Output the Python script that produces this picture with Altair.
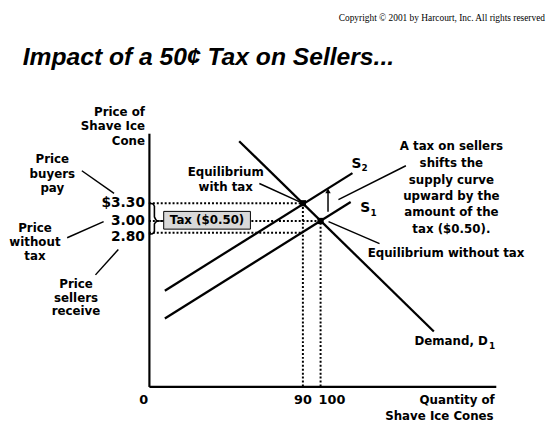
import altair as alt
import pandas as pd

# ---------------- data (economic units: quantity q, price p) ----------------
Q_DOMAIN = [3, 199]
P_DOMAIN = [0.2, 4.485]

demand_q = [54, 164]
demand_p = [4.35, 1.13]
s1_q = [12, 117]
s1_p = [1.35, 3.32]
s2_q = [12, 118]
s2_p = [1.82, 3.81]

eq_q = [100, 90]          # without tax, with tax
eq_p = [3.00, 3.30]

price_ticks = [3.30, 3.00, 2.80]
price_labels = ["$3.30", "3.00", "2.80"]
price_guide_q = [90, 100, 90]

qty_ticks = [0, 90, 100]
qty_labels = ["0", "90", "100"]
qty_guide_p = [None, 3.30, 3.00]
qty_label_p = -0.034

tax_label = "Tax ($0.50)"

# brace between 3.30 and 2.80
brace_q = [3, 5, 6.1, 6.1, 8, 6.1, 6.1, 5, 3]
brace_p = [3.30, 3.29, 3.25, 3.07, 3.00, 2.95, 2.82, 2.785, 2.775]

# tax box
box_q = [11.35, 60.35]
box_p = [2.862, 3.162]

# shift arrow
arrow_q = 104.2
arrow_p = [3.155, 3.50]

# leader lines (q, p) -> (q2, p2)
lead_q = [-34.9, -43.2, -27.2, 65.4, 148.2, 133.3]
lead_p = [3.85, 2.717, 2.088, 3.634, 3.934, 2.617]
lead_q2 = [-16.7, -22.6, -14.3, 88.2, 110.1, 104.5]
lead_p2 = [3.467, 2.988, 2.517, 3.322, 3.362, 2.988]

# annotation text lines
center_text = ["Price", "buyers", "pay",
               "Price", "without", "tax",
               "Price", "sellers", "receive",
               "Equilibrium", "with tax",
               "A tax on sellers", "shifts the", "supply curve",
               "upward by the", "amount of the", "tax ($0.50).",
               "Equilibrium without tax"]
center_q = [-51.6, -51.6, -51.6,
            -61.4, -61.4, -61.4,
            -38.2, -38.2, -38.2,
            46.4, 46.4,
            173.9, 173.9, 173.9, 173.9, 173.9, 173.9,
            170.9]
center_p = [4.05, 3.80, 3.55,
            2.883, 2.642, 2.405,
            1.933, 1.695, 1.474,
            3.834, 3.567,
            4.267, 3.984, 3.70, 3.425, 3.15, 2.858,
            2.461]

right_text = ["Price of", "Shave Ice", "Cone", "Demand, D", "Quantity of", "Shave Ice Cones"]
right_q = [0.77, 0.77, 0.77, 194.5, 198.4, 197.8]
right_p = [4.851, 4.606, 4.35, 0.974, -0.034, -0.30]

s_text = ["S", "S"]
s_q = [120.3, 125.2]
s_p = [3.962, 3.217]
sub_text = ["2", "1", "1"]
sub_q = [124.9, 130.0, 196.9]
sub_p = [3.895, 3.142, 0.891]

title_text = "Impact of a 50\u00a2 Tax on Sellers..."
title_q, title_p = -68.3, 5.639
copyright_text = "Copyright \u00a9 2001 by Harcourt, Inc. All rights reserved"
copyright_q, copyright_p = 226.8, 6.379

# ---------------- helpers ----------------
XS = alt.Scale(domain=Q_DOMAIN, nice=False, zero=False)
YS = alt.Scale(domain=P_DOMAIN, nice=False, zero=False)
AX = alt.Axis(domain=True, domainColor="black", domainWidth=2.2, ticks=False,
              labels=False, grid=False, title=None)


def X(f="q"):
    return alt.X(f"{f}:Q", scale=XS, axis=AX)


def Y(f="p"):
    return alt.Y(f"{f}:Q", scale=YS, axis=AX)


FONT = "DejaVu Sans"

# ---------------- tables ----------------
curves = pd.concat([
    pd.DataFrame({"curve": "D", "q": demand_q, "p": demand_p, "o": range(len(demand_q))}),
    pd.DataFrame({"curve": "S1", "q": s1_q, "p": s1_p, "o": range(len(s1_q))}),
    pd.DataFrame({"curve": "S2", "q": s2_q, "p": s2_p, "o": range(len(s2_q))}),
])

h_guides = pd.DataFrame({"q": [Q_DOMAIN[0]] * 3, "q2": price_guide_q,
                         "p": price_ticks, "p2": price_ticks})
v_guides = pd.DataFrame({"q": qty_ticks[1:], "q2": qty_ticks[1:],
                         "p": [P_DOMAIN[0]] * 2, "p2": qty_guide_p[1:]})
guides = pd.concat([h_guides, v_guides])

eq = pd.DataFrame({"q": eq_q, "p": eq_p})
brace = pd.DataFrame({"q": brace_q, "p": brace_p, "o": range(len(brace_q))})
brace_link = pd.DataFrame({"q": [brace_q[4]], "q2": [box_q[0]], "p": [3.0], "p2": [3.0]})
box = pd.DataFrame({"q": [box_q[0]], "q2": [box_q[1]], "p": [box_p[0]], "p2": [box_p[1]],
                    "qc": [sum(box_q) / 2], "pc": [sum(box_p) / 2], "t": [tax_label]})
arrow = pd.DataFrame({"q": [arrow_q], "q2": [arrow_q], "p": [arrow_p[0]], "p2": [arrow_p[1]]})
arrow_head = pd.DataFrame({"q": [arrow_q], "p": [arrow_p[1] + 0.01]})
leaders = pd.DataFrame({"q": lead_q, "p": lead_p, "q2": lead_q2, "p2": lead_p2})

ctext = pd.DataFrame({"q": center_q, "p": center_p, "t": center_text})
rtext = pd.DataFrame({"q": right_q, "p": right_p, "t": right_text})
stext = pd.DataFrame({"q": s_q, "p": s_p, "t": s_text})
subtext = pd.DataFrame({"q": sub_q, "p": sub_p, "t": sub_text})
ptick = pd.DataFrame({"q": [Q_DOMAIN[0]] * 3, "p": price_ticks, "t": price_labels})
qtick_c = pd.DataFrame({"q": qty_ticks[:2], "p": [qty_label_p] * 2, "t": qty_labels[:2]})
qtick_l = pd.DataFrame({"q": qty_ticks[2:], "p": [qty_label_p], "t": qty_labels[2:]})
title_df = pd.DataFrame({"q": [title_q], "p": [title_p], "t": [title_text]})
copy_df = pd.DataFrame({"q": [copyright_q], "p": [copyright_p], "t": [copyright_text]})

# ---------------- layers ----------------
guide_layer = alt.Chart(guides).mark_rule(color="black", strokeWidth=2, strokeDash=[2, 2]).encode(
    x=X(), x2="q2:Q", y=Y(), y2="p2:Q")

curve_layer = alt.Chart(curves).mark_line(color="black", strokeWidth=2.3).encode(
    x=X(), y=Y(), detail="curve:N", order="o:Q")

brace_layer = alt.Chart(brace).mark_line(color="black", strokeWidth=1.6, interpolate="monotone").encode(
    x=X(), y=Y(), order="o:Q")
brace_link_layer = alt.Chart(brace_link).mark_rule(color="black", strokeWidth=1.5).encode(
    x=X(), x2="q2:Q", y=Y(), y2="p2:Q")

box_layer = alt.Chart(box).mark_rect(fill="#d9d9d9", stroke="black", strokeWidth=1).encode(
    x=X(), x2="q2:Q", y=Y(), y2="p2:Q")
box_text = alt.Chart(box).mark_text(font=FONT, fontWeight="bold", fontSize=12, color="black",
                                    baseline="middle", align="center").encode(
    x=X("qc"), y=Y("pc"), text="t:N")

eq_layer = alt.Chart(eq).mark_square(size=40, color="black", opacity=1).encode(x=X(), y=Y())

arrow_layer = alt.Chart(arrow).mark_rule(color="black", strokeWidth=1.5).encode(
    x=X(), x2="q2:Q", y=Y(), y2="p2:Q")
arrow_head_layer = alt.Chart(arrow_head).mark_point(shape="triangle-up", size=30, filled=True,
                                                    color="black", opacity=1).encode(x=X(), y=Y())

leader_layer = alt.Chart(leaders).mark_rule(color="black", strokeWidth=1.5).encode(
    x=X(), x2="q2:Q", y=Y(), y2="p2:Q")


def text_layer(df, align, size, font=FONT, weight="bold", style=None, baseline="middle", dx=0, dy=0):
    kw = dict(font=font, fontWeight=weight, fontSize=size, color="black", align=align,
              baseline=baseline, dx=dx, dy=dy)
    if style:
        kw["fontStyle"] = style
    return alt.Chart(df).mark_text(**kw).encode(x=X(), y=Y(), text="t:N")


layers = [
    guide_layer,
    curve_layer,
    brace_layer,
    brace_link_layer,
    box_layer,
    box_text,
    eq_layer,
    arrow_layer,
    arrow_head_layer,
    leader_layer,
    text_layer(ctext, "center", 12),
    text_layer(rtext, "right", 12),
    text_layer(stext, "center", 14),
    text_layer(subtext, "center", 9),
    text_layer(ptick.iloc[:2], "right", 14, dx=-4),
    text_layer(ptick.iloc[2:], "right", 14, dx=-4, dy=4),
    text_layer(qtick_c, "center", 13),
    text_layer(qtick_l, "left", 13, dx=-2),
    text_layer(title_df, "left", 25, font="Liberation Sans", style="italic", baseline="alphabetic"),
    text_layer(copy_df, "right", 9.5, font="Liberation Serif", weight="normal", baseline="alphabetic"),
]

chart = alt.layer(*layers).properties(
    width=352,
    height=257,
    autosize=alt.AutoSizeParams(type="none"),
    padding={"left": 143, "top": 124, "right": 54, "bottom": 33},
    background="white",
).configure_view(stroke=None)

chart.save("out.html", embed_options={"renderer": "svg", "actions": False})
